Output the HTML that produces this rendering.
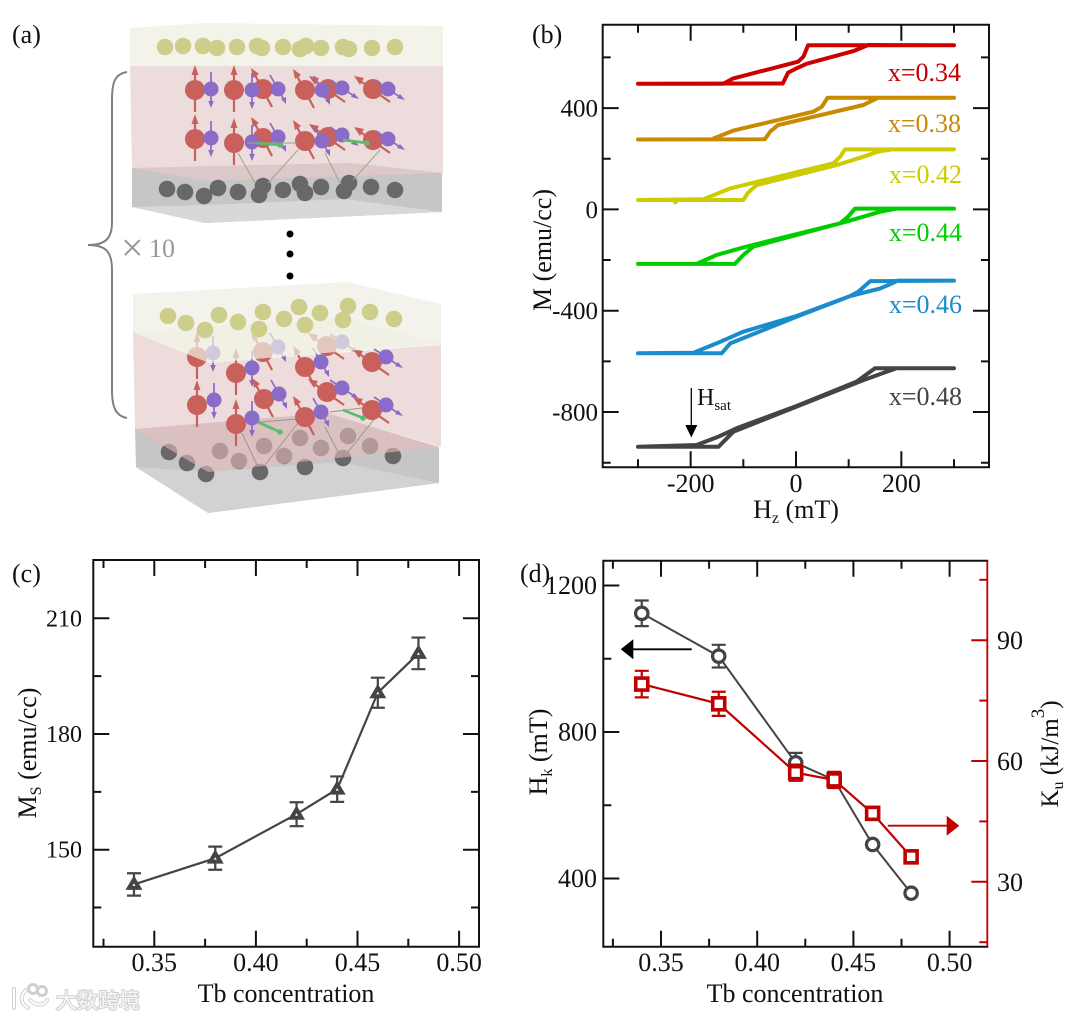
<!DOCTYPE html>
<html lang="en">
<head>
<meta charset="utf-8">
<title>Tb concentration dependence of magnetic properties</title>
<style>
html,body{margin:0;padding:0;background:#fff;width:1080px;height:1019px;overflow:hidden}
svg{display:block;filter:blur(0.35px)}
text{font-family:"Liberation Serif","Noto Serif CJK SC",serif;fill:#111}
</style>
</head>
<body>
<svg id="figure" xmlns="http://www.w3.org/2000/svg" width="1080" height="1019" viewBox="0 0 1080 1019">
<defs>
  <g id="ru"><path d="M0 22V-16" stroke="#c9605c" stroke-width="2.200"/><path d="M0 -25L3.500 -15H-3.500Z" fill="#c9605c"/><circle r="10" fill="#c9605c"/></g>
  <g id="rt"><path d="M9 18L-8 -14" stroke="#c9605c" stroke-width="2.200"/><path d="M-12 -21L-4 -15L-10 -11Z" fill="#c9605c"/><circle r="10" fill="#c9605c"/></g>
  <g id="rs"><path d="M17 13L-14 -9" stroke="#c9605c" stroke-width="2.200"/><path d="M-19 -13L-9 -11L-13 -4Z" fill="#c9605c"/><circle r="10" fill="#c9605c"/></g>
  <g id="bu"><path d="M0 -17V13" stroke="#8a6bc8" stroke-width="1.700"/><path d="M0 19L-2.800 12H2.800Z" fill="#8a6bc8"/><circle r="7.500" fill="#8a6bc8"/></g>
  <g id="bt"><path d="M-8 -14L6 11" stroke="#8a6bc8" stroke-width="1.700"/><path d="M8 15L3 10L8 8Z" fill="#8a6bc8"/><circle r="7.500" fill="#8a6bc8"/></g>
  <g id="bs"><path d="M-12 -8L12 8" stroke="#8a6bc8" stroke-width="1.700"/><path d="M17 11L9 9L12 5Z" fill="#8a6bc8"/><circle r="7.500" fill="#8a6bc8"/></g>
</defs>

<g id="panel-a">
  <g>
    <path d="M130 28L205 23L443 26V66H130Z" fill="#f3f3ea"/>
    <path d="M130 66H443V174L350 163L132 168Z" fill="#ecdcdc"/>
    <path d="M132 168L350 163L442 173V212L205 223L132 207Z" fill="#c6c6c6"/>
    <path d="M132 168L350 163L442 173L205 181Z" fill="#dcc8c8"/>
    <path d="M132 207L205 223L442 212L345 199L205 205Z" fill="#d8d8d8"/>
    <g class="atoms" fill="#cdcd8c">
      <circle cx="165" cy="47" r="8.300"/><circle cx="183" cy="46" r="8.300"/><circle cx="203" cy="46" r="8.300"/><circle cx="217" cy="48" r="8.300"/><circle cx="237" cy="47" r="8.300"/><circle cx="257" cy="46" r="8.300"/><circle cx="262" cy="48" r="8.300"/><circle cx="283" cy="47" r="8.300"/><circle cx="300" cy="49" r="8.300"/><circle cx="306" cy="46" r="8.300"/><circle cx="321" cy="48" r="8.300"/><circle cx="343" cy="47" r="8.300"/><circle cx="349" cy="49" r="8.300"/><circle cx="372" cy="48" r="8.300"/><circle cx="395" cy="47" r="8.300"/>
    </g>
    <g class="atoms">
      <use href="#ru" x="195" y="90"/><use href="#bu" x="211" y="89"/><use href="#rt" x="263" y="89"/><use href="#ru" x="234" y="90"/><use href="#bu" x="252" y="90"/><use href="#bt" x="278" y="89"/><use href="#rs" x="328" y="89"/><use href="#rt" x="305" y="90"/><use href="#bt" x="322" y="90"/><use href="#bs" x="342" y="88"/><use href="#rs" x="373" y="89"/><use href="#bs" x="388" y="89"/>
      <use href="#ru" x="195" y="139"/><use href="#bu" x="211" y="138"/><use href="#rt" x="263" y="138"/><use href="#ru" x="234" y="143"/><use href="#bu" x="252" y="142"/><use href="#bt" x="278" y="137"/><use href="#rs" x="328" y="137"/><use href="#rt" x="305" y="141"/><use href="#bt" x="322" y="141"/><use href="#bs" x="342" y="135"/><use href="#rs" x="373" y="140"/><use href="#bs" x="388" y="139"/>
    </g>
    <g class="atoms" fill="#686868">
      <circle cx="167" cy="189" r="8.300"/><circle cx="185" cy="192" r="8.300"/><circle cx="204" cy="196" r="8.300"/><circle cx="218" cy="188" r="8.300"/><circle cx="238" cy="192" r="8.300"/><circle cx="263" cy="186" r="8.300"/><circle cx="259" cy="195" r="8.300"/><circle cx="283" cy="190" r="8.300"/><circle cx="300" cy="184" r="8.300"/><circle cx="305" cy="193" r="8.300"/><circle cx="321" cy="187" r="8.300"/><circle cx="349" cy="183" r="8.300"/><circle cx="344" cy="191" r="8.300"/><circle cx="371" cy="187" r="8.300"/><circle cx="395" cy="190" r="8.300"/>
    </g>
    <g stroke="#9aa888" stroke-width="1" fill="none">
      <path d="M238 153L255 183M268 183L298 150M325 153L340 183M353 180L380 150M247 143H297"/>
    </g>
    <g stroke="#5cbc6c" stroke-width="2.800" fill="#5cbc6c">
      <path d="M257 143L280 145"/><circle cx="280" cy="145" r="2.800" stroke="none"/>
      <path d="M343 140L367 143"/><circle cx="367" cy="143" r="2.800" stroke="none"/>
    </g>
  </g>

  <path d="M127 72C114 74 112 84 112 100V222C112 238 106 245 88 245C106 245 112 252 112 270V390C112 408 116 416 127 418" fill="none" stroke="#808080" stroke-width="2"/>
  <text style="fill:#989898"><tspan x="121" y="261" font-size="40">×</tspan><tspan x="149" y="257" font-size="26">10</tspan></text>
  <g fill="#000">
    <circle cx="290" cy="234" r="3.500"/><circle cx="290" cy="254" r="3.500"/><circle cx="290" cy="276" r="3.500"/>
  </g>

  <g>
    <path d="M133 294L347 282L441 304V345L209 363L133 332Z" fill="#f3f3ec"/>
    <path d="M133 332L209 363L441 345V447L327 413L135 429Z" fill="#eedcdc"/>
    <path d="M135 429L327 413L439 447V483L208 513L136 467Z" fill="#c6c6c6"/>
    <path d="M136 467L208 513L439 483L340 462L208 472Z" fill="#d2d2d2"/>
    <g class="atoms" fill="#686868">
      <circle cx="169" cy="452" r="8.300"/><circle cx="187" cy="463" r="8.300"/><circle cx="206" cy="474" r="8.300"/><circle cx="220" cy="451" r="8.300"/><circle cx="239" cy="461" r="8.300"/><circle cx="260" cy="472" r="8.300"/><circle cx="264" cy="446" r="8.300"/><circle cx="284" cy="456" r="8.300"/><circle cx="300" cy="438" r="8.300"/><circle cx="305" cy="467" r="8.300"/><circle cx="321" cy="448" r="8.300"/><circle cx="343" cy="458" r="8.300"/><circle cx="348" cy="436" r="8.300"/><circle cx="370" cy="446" r="8.300"/><circle cx="393" cy="456" r="8.300"/>
    </g>
    <path d="M135 429L327 413L439 447L208 472Z" fill="#e8bcbc" fill-opacity="0.58"/>
    <g stroke="#9a9a80" stroke-width="1" fill="none">
      <path d="M242 433L257 465M265 465L298 423M325 427L338 452M348 452L375 418M260 422L297 419M330 412L362 408"/>
    </g>
    <g class="atoms">
      <use href="#ru" x="197" y="357"/><use href="#bu" x="213" y="353"/><use href="#rt" x="263" y="352"/><use href="#bt" x="278" y="347"/><use href="#rs" x="327" y="346"/><use href="#bs" x="342" y="342"/>
      <use href="#ru" x="236" y="373"/><use href="#bu" x="252" y="368"/><use href="#rt" x="305" y="367"/><use href="#bt" x="321" y="362"/><use href="#rs" x="372" y="362"/><use href="#bs" x="386" y="357"/>
      <use href="#ru" x="197" y="405"/><use href="#bu" x="214" y="400"/><use href="#rt" x="264" y="399"/><use href="#bt" x="279" y="394"/><use href="#rs" x="327" y="392"/><use href="#bs" x="342" y="388"/>
      <use href="#ru" x="236" y="424"/><use href="#bu" x="252" y="418"/><use href="#rt" x="305" y="417"/><use href="#bt" x="321" y="412"/><use href="#rs" x="372" y="410"/><use href="#bs" x="386" y="405"/>
    </g>
    <g stroke="#5cbc6c" stroke-width="2.800" fill="#5cbc6c">
      <path d="M258 422L280 432"/><circle cx="280" cy="432" r="2.800" stroke="none"/>
      <path d="M343 410L363 418"/><circle cx="363" cy="418" r="2.800" stroke="none"/>
    </g>
    <path d="M133 332L343 318L441 343L209 363Z" fill="#efefe2" fill-opacity="0.72"/>
    <g class="atoms" fill="#cdcd8c">
      <circle cx="168" cy="316" r="8.300"/><circle cx="186" cy="323" r="8.300"/><circle cx="205" cy="330" r="8.300"/><circle cx="219" cy="315" r="8.300"/><circle cx="238" cy="322" r="8.300"/><circle cx="259" cy="329" r="8.300"/><circle cx="263" cy="312" r="8.300"/><circle cx="284" cy="319" r="8.300"/><circle cx="299" cy="307" r="8.300"/><circle cx="305" cy="325" r="8.300"/><circle cx="320" cy="313" r="8.300"/><circle cx="343" cy="320" r="8.300"/><circle cx="348" cy="306" r="8.300"/><circle cx="370" cy="312" r="8.300"/><circle cx="394" cy="319" r="8.300"/>
    </g>
  </g>
  <text x="12" y="43" font-size="26">(a)</text>
</g>

<g id="panel-b">
  <text x="532" y="43" font-size="26">(b)</text>
  <text x="961" y="81" font-size="26" text-anchor="end" style="fill:#c00000">x=0.34</text>
  <text x="961" y="132" font-size="26" text-anchor="end" style="fill:#c88a00">x=0.38</text>
  <text x="962" y="183" font-size="26" text-anchor="end" style="fill:#cccc00">x=0.42</text>
  <text x="962" y="241" font-size="26" text-anchor="end" style="fill:#00cc00">x=0.44</text>
  <text x="962" y="313" font-size="26" text-anchor="end" style="fill:#1a8ccc">x=0.46</text>
  <text x="962" y="405" font-size="26" text-anchor="end" style="fill:#444444">x=0.48</text>
  <g>
    <path d="M691.300 388V427" stroke="#000" stroke-width="1.300"/>
    <path d="M691.300 437.500L685.300 425H697.300Z" fill="#000"/>
    <text x="697" y="405" font-size="24">H<tspan font-size="15" dy="5">sat</tspan></text>
  </g>
  <text x="796" y="518" font-size="26" text-anchor="middle">H<tspan font-size="16" dy="5">z</tspan><tspan dy="-5"> (mT)</tspan></text>
  <text transform="translate(551,250) rotate(-90)" font-size="26" text-anchor="middle">M (emu/cc)</text>
</g>

<g id="panel-c">
  <text x="12" y="582" font-size="26">(c)</text>
  <text x="286" y="1002" font-size="26" text-anchor="middle">Tb concentration</text>
  <text transform="translate(36,753) rotate(-90)" font-size="26" text-anchor="middle">M<tspan font-size="16" dy="5">S</tspan><tspan dy="-5"> (emu/cc)</tspan></text>
</g>

<g id="panel-d">
  <text x="795" y="1002" font-size="26" text-anchor="middle">Tb concentration</text>
  <text transform="translate(547,752) rotate(-90)" font-size="26" text-anchor="middle">H<tspan font-size="16" dy="5">k</tspan><tspan dy="-5"> (mT)</tspan></text>
  <text transform="translate(1058,754) rotate(-90)" font-size="25" text-anchor="middle">K<tspan font-size="16" dy="5">u</tspan><tspan dy="-5"> (kJ/m</tspan><tspan font-size="19" dy="-14">3</tspan><tspan dy="14">)</tspan></text>
</g>

<g id="watermark">
  <g fill="none" stroke-linecap="round">
    <path d="M14 989V1008M26 990C20 996 20 1003 28 1008M30 1000C36 1006 44 1006 47 1000" stroke="#cfcfcf" stroke-width="4"/>
    <circle cx="33" cy="989" r="4.500" stroke="#cfcfcf" stroke-width="3"/><circle cx="42" cy="991" r="4.500" stroke="#cfcfcf" stroke-width="3"/>
    <path d="M14 989V1008M26 990C20 996 20 1003 28 1008M30 1000C36 1006 44 1006 47 1000" stroke="#fff" stroke-width="2"/>
  </g>
  <text x="56" y="1008" font-size="21" stroke="#cfcfcf" stroke-width="2" paint-order="stroke" style="fill:#f8f8f8;font-family:'Liberation Sans','Noto Sans CJK SC',sans-serif">大数跨境</text>
</g>
</svg>

<script>
// Panel (b) loop data: field in mT, magnetisation in emu/cc
const loopLabels = ['x=0.34', 'x=0.38', 'x=0.42', 'x=0.44', 'x=0.46', 'x=0.48'];
const h034Rising = [-300, -25, -15, 0, 20, 109, 137, 300];
const m034Rising = [496, 497, 540, 556, 575, 625, 649, 648];
const h034Falling = [300, 137, 23, 14, 4, -119, -138, -300];
const m034Falling = [648, 648, 648, 603, 583, 517, 496, 496];
const h038Rising = [-300, -59, -49, -34, 128, 156, 300];
const m038Rising = [276, 277, 307, 333, 412, 441, 441];
const h038Falling = [300, 60, 49, 33, -119, -160, -300];
const m038Falling = [441, 441, 405, 386, 311, 277, 276];
const h042Rising = [-300, -232, -229, -226, -100, -91, -75, 77, 128, 156, 182, 300];
const m042Rising = [37, 37, 28, 37, 37, 66, 96, 175, 208, 228, 237, 237];
const h042Falling = [300, 93, 84, 71, -125, -176, -300];
const m042Falling = [237, 237, 208, 182, 83, 40, 37];
const h044Rising = [-300, -116, -100, -81, 96, 160, 191, 300];
const m044Rising = [-215, -215, -180, -147, -48, -9, 3, 3];
const h044Falling = [300, 112, 99, 84, -100, -151, -189, -300];
const m044Falling = [3, 3, -29, -55, -150, -180, -215, -215];
const h046Rising = [-300, -141, -125, 1, 103, 160, 194, 300];
const m046Rising = [-568, -568, -529, -424, -342, -312, -281, -281];
const h046Falling = [300, 141, 118, 103, 1, -100, -151, -195, -300];
const m046Falling = [-281, -283, -325, -342, -421, -483, -529, -566, -568];
const h048Rising = [-300, -147, -119, 1, 128, 191, 300];
const m048Rising = [-937, -937, -878, -779, -674, -627, -627];
const h048Falling = [300, 150, 115, 1, -113, -147, -189, -300];
const m048Falling = [-627, -627, -680, -776, -864, -897, -930, -937];

const bFieldMajorTicks = [-200, 0, 200];
const bFieldMinorTicks = [-300, -100, 100, 300];
const bMomentMajorTicks = [-800, -400, 0, 400];
const bMomentMinorTicks = [-1000, -600, -200, 200, 600];

// Panels (c), (d): shared concentration axis
const concentration = [0.34, 0.38, 0.42, 0.44, 0.46, 0.48];
const concMajorTicks = [0.35, 0.40, 0.45, 0.50];
const concMinorTicks = [0.325, 0.375, 0.425, 0.475];

const msValues = [141, 147.8, 159.2, 165.7, 190.7, 200.9];
const msErrors = [2.9, 3.0, 3.1, 3.3, 3.9, 4.1];
const msMajorTicks = [150, 180, 210];
const msMinorTicks = [135, 165, 195];

const hkValues = [1124, 1007, 716, 669, 493, 360];
const hkErrors = [35, 31, 27, 0, 0, 0];
const hkMajorTicks = [400, 800, 1200];
const hkMinorTicks = [600, 1000];

const kuValues = [79.1, 74.2, 57.1, 55.3, 47, 36.2];
const kuErrors = [3.3, 3.0, 2.0, 2.0, 0, 0];
const kuMajorTicks = [30, 60, 90];
const kuMinorTicks = [15, 45, 75, 105];

const NS = 'http://www.w3.org/2000/svg';
function mk(tag, attrs, parent, content) {
  const el = document.createElementNS(NS, tag);
  for (const k in attrs) el.setAttribute(k, attrs[k]);
  if (content !== undefined) el.textContent = content;
  parent.appendChild(el);
  return el;
}

// Axis functions
const xB = v => 796 + v * 0.5267;
const yB = v => 209.4 - v * 0.2533;
const xC = v => 154.3 + (v - 0.35) * 2032;
const yC = v => 849.7 - (v - 150) * 3.857;
const xD = v => 661 + (v - 0.35) * 1924;
const yHk = v => 732 - (v - 800) * 0.3663;
const yKu = v => 761 - (v - 60) * 4.027;

const MAJOR = 16;
const MINOR = 8;

function frame(parent, l, t, r, b, name, rightColor) {
  const el = mk('path', {d: `M${l} ${t}H${r}M${l} ${b}H${r}M${l} ${t}V${b}` + (rightColor ? '' : `M${r} ${t}V${b}`), fill: 'none', stroke: '#111', 'stroke-width': 2, 'stroke-linecap': 'square'}, parent);
  
  
}

function xTicks(parent, values, scale, t, b, len) {
  values.forEach(v => {
    const px = scale(v);
    const el = mk('path', {d: `M${px} ${t}v${len}M${px} ${b}v${-len}`, stroke: '#111', 'stroke-width': 2}, parent);
    
    
  });
}

function yTicks(parent, values, scale, l, r, len, color) {
  values.forEach(v => {
    const py = scale(v);
    const d = (l !== null ? `M${l} ${py}h${len}` : '') + (r !== null ? `M${r} ${py}h${-len}` : '');
    const el = mk('path', {d: d, stroke: color, 'stroke-width': 2}, parent);
    
    
  });
}

function xLabels(parent, values, scale, y, digits) {
  values.forEach(v => {
    const el = mk('text', {x: scale(v), y: y, 'font-size': 26, 'text-anchor': 'middle'}, parent, digits ? v.toFixed(digits) : String(v));
    
    
  });
}

function yLabels(parent, values, scale, x, anchor, size, dy) {
  values.forEach(v => {
    const el = mk('text', {x: x, y: scale(v) + dy, 'font-size': size, 'text-anchor': anchor}, parent, String(v));
    
    
  });
}

function pathFrom(hs, ms, sx, sy) {
  return hs.map((h, i) => (i ? 'L' : 'M') + sx(h).toFixed(1) + ' ' + sy(ms[i]).toFixed(1)).join('');
}

function errorBars(parent, xs, vs, es, sx, sy, color, width) {
  xs.forEach((x, i) => {
    if (!es[i]) return;
    const px = sx(x), hi = sy(vs[i] + es[i]), lo = sy(vs[i] - es[i]);
    const el = mk('path', {d: `M${px} ${hi}V${lo}M${px - 7} ${hi}h14M${px - 7} ${lo}h14`, fill: 'none', stroke: color, 'stroke-width': width}, parent);
    
    
  });
}

// Panel (b)
const panelB = document.getElementById('panel-b');
frame(panelB, 602.7, 24.7, 989, 467.3, 'panel-b-frame');
xTicks(panelB, bFieldMajorTicks, xB, 24.7, 467.3, MAJOR);
xTicks(panelB, bFieldMinorTicks, xB, 24.7, 467.3, MINOR);
yTicks(panelB, bMomentMajorTicks, yB, 602.7, 989, MAJOR, '#111');
yTicks(panelB, bMomentMinorTicks, yB, 602.7, 989, MINOR, '#111');
xLabels(panelB, bFieldMajorTicks, xB, 492, 0);
yLabels(panelB, bMomentMajorTicks, yB, 598, 'end', 25, 8.5);

const loopBranches = [
  [h034Rising, m034Rising, h034Falling, m034Falling, '#cc0000'],
  [h038Rising, m038Rising, h038Falling, m038Falling, '#c88a00'],
  [h042Rising, m042Rising, h042Falling, m042Falling, '#cccc00'],
  [h044Rising, m044Rising, h044Falling, m044Falling, '#00cc00'],
  [h046Rising, m046Rising, h046Falling, m046Falling, '#1a8ccc'],
  [h048Rising, m048Rising, h048Falling, m048Falling, '#444444']
];
loopBranches.forEach((b, i) => {
  const d = pathFrom(b[0], b[1], xB, yB) + pathFrom(b[2], b[3], xB, yB);
  const el = mk('path', {d: d, fill: 'none', stroke: b[4], 'stroke-width': 4, 'stroke-linejoin': 'round', 'stroke-linecap': 'round'}, panelB);
  
  
});

// Panel (c)
const panelC = document.getElementById('panel-c');
frame(panelC, 93.3, 560, 479, 946.7, 'panel-c-frame');
xTicks(panelC, concMajorTicks, xC, 560, 946.7, MAJOR);
xTicks(panelC, concMinorTicks, xC, 560, 946.7, MINOR);
yTicks(panelC, msMajorTicks, yC, 93.3, 479, MAJOR, '#111');
yTicks(panelC, msMinorTicks, yC, 93.3, 479, MINOR, '#111');
xLabels(panelC, concMajorTicks, xC, 971, 2);
yLabels(panelC, msMajorTicks, yC, 82, 'end', 24, 8);
errorBars(panelC, concentration, msValues, msErrors, xC, yC, '#444', 2.2);
const msLine = mk('path', {d: pathFrom(concentration, msValues, xC, yC), fill: 'none', stroke: '#444', 'stroke-width': 2.2}, panelC);


concentration.forEach((c, i) => {
  const px = xC(c), py = yC(msValues[i]);
  const el = mk('path', {d: `M${px - 5} ${py + 3.5}H${px + 5}L${px} ${py - 5}Z`, fill: '#fff', stroke: '#444', 'stroke-width': 4}, panelC);
  
  
});

// Panel (d)
const panelD = document.getElementById('panel-d');
const dLabel = mk('text', {x: 520, y: 582, 'font-size': 26}, panelD, '(d)');


frame(panelD, 603.3, 560.7, 987.3, 946.7, 'panel-d-frame', true);
xTicks(panelD, concMajorTicks, xD, 560.7, 946.7, MAJOR);
xTicks(panelD, concMinorTicks, xD, 560.7, 946.7, MINOR);
yTicks(panelD, hkMajorTicks, yHk, 603.3, null, MAJOR, '#111');
yTicks(panelD, hkMinorTicks, yHk, 603.3, null, MINOR, '#111');
const kuAxis = mk('path', {d: 'M987.3 560.7V946.7', stroke: '#c00000', 'stroke-width': 1.8}, panelD);


yTicks(panelD, kuMajorTicks, yKu, null, 987.3, MAJOR, '#c00000');
yTicks(panelD, kuMinorTicks, yKu, null, 987.3, MINOR, '#c00000');
xLabels(panelD, concMajorTicks, xD, 971, 2);
yLabels(panelD, hkMajorTicks, yHk, 597, 'end', 26, 8.5);
yLabels(panelD, kuMajorTicks, yKu, 997, 'start', 26, 9);

errorBars(panelD, concentration, hkValues, hkErrors, xD, yHk, '#444', 2.2);
const hkLine = mk('path', {d: pathFrom(concentration, hkValues, xD, yHk), fill: 'none', stroke: '#444', 'stroke-width': 2}, panelD);


concentration.forEach((c, i) => {
  const el = mk('circle', {cx: xD(c), cy: yHk(hkValues[i]), r: 6.2, fill: '#fff', stroke: '#444', 'stroke-width': 3.2}, panelD);
  
  
});
errorBars(panelD, concentration, kuValues, kuErrors, xD, yKu, '#c00000', 2.2);
const kuLine = mk('path', {d: pathFrom(concentration, kuValues, xD, yKu), fill: 'none', stroke: '#c00000', 'stroke-width': 2.2}, panelD);


concentration.forEach((c, i) => {
  const el = mk('rect', {x: xD(c) - 6, y: yKu(kuValues[i]) - 6, width: 12, height: 12, fill: '#fff', stroke: '#c00000', 'stroke-width': 3.6}, panelD);
  
  
});

const hkArrow = mk('path', {d: 'M691.7 649.3H630', stroke: '#000', 'stroke-width': 1.8}, panelD);


const hkHead = mk('path', {d: 'M620.7 649.3L633.3 639.3V659.3Z', fill: '#000'}, panelD);


const kuArrow = mk('path', {d: 'M887.7 825.7H950', stroke: '#c00000', 'stroke-width': 1.8}, panelD);


const kuHead = mk('path', {d: 'M959.3 825.7L946.7 815.7V835.7Z', fill: '#c00000'}, panelD);



// Name individual schematic atoms
document.querySelectorAll('.atoms > *').forEach(el => {
  
  
});
</script>
</body>
</html>
